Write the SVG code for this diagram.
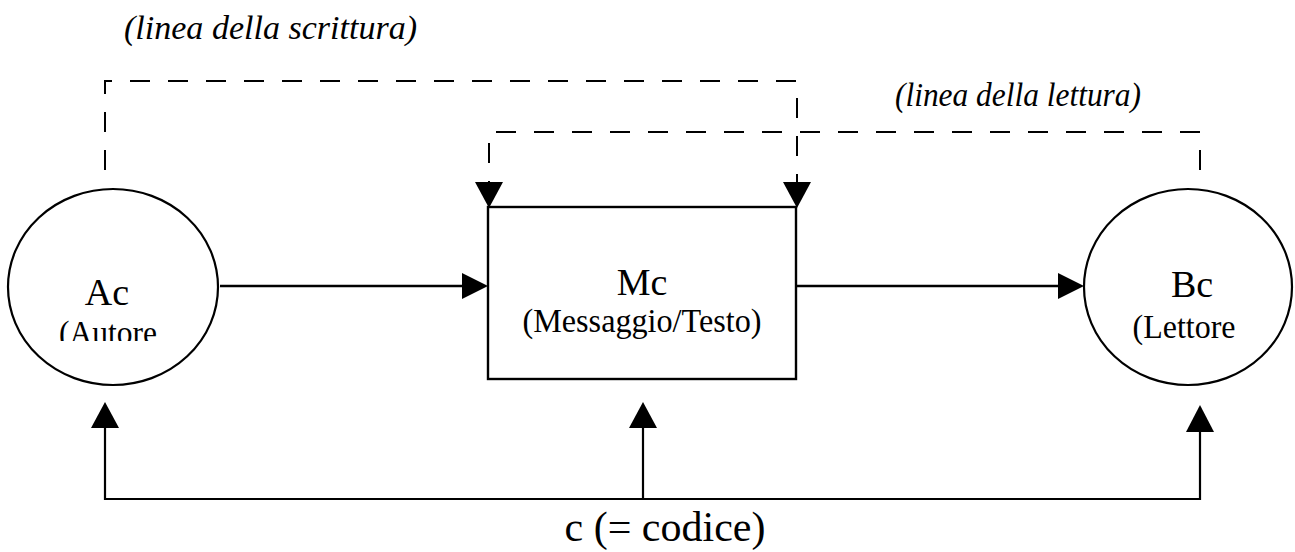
<svg xmlns="http://www.w3.org/2000/svg" width="1295" height="552" viewBox="0 0 1295 552">
<style>
text{font-family:"Liberation Serif","Times New Roman",serif;fill:#000}
.t{font-size:38px;text-anchor:middle}
.s{font-size:33px;text-anchor:middle}
.i{font-size:34px;font-style:italic}
.sh{fill:none;stroke:#000;stroke-width:2.2}
.ln{fill:none;stroke:#000;stroke-width:2.4}
.dl{fill:none;stroke:#000;stroke-width:2;stroke-dasharray:20 18}
.ah{fill:#000;stroke:none}
</style>
<defs>
<clipPath id="clipA"><rect x="0" y="0" width="300" height="341"/></clipPath>
</defs>
<rect width="1295" height="552" fill="#fff"/>
<g id="labels">
<text class="i" x="124" y="39" textLength="293" lengthAdjust="spacingAndGlyphs">(linea della scrittura)</text>
<text class="i" x="895" y="106" textLength="246" lengthAdjust="spacingAndGlyphs">(linea della lettura)</text>
<text x="665" y="541" style="font-size:42px;text-anchor:middle">c (= codice)</text>
</g>
<g id="connectors">
<path class="dl" d="M105,170 V81 H797 V182"/>
<path class="dl" d="M1200,170 V132 H489 V182"/>
<polygon class="ah" points="475,182 503,182 489,208"/>
<polygon class="ah" points="783,182 811,182 797,208"/>
<line class="ln" x1="220" y1="286" x2="464" y2="286"/>
<polygon class="ah" points="462,273 488,286 462,299"/>
<line class="ln" x1="796" y1="286" x2="1060" y2="286"/>
<polygon class="ah" points="1058,273 1084,286 1058,299"/>
<path class="sh" d="M105,428 V499 H1200 V432 M643,499 V428"/>
<polygon class="ah" points="91,428 119,428 105,402"/>
<polygon class="ah" points="629,428 657,428 643,402"/>
<polygon class="ah" points="1186,432 1214,432 1200,405"/>
</g>
<g id="node-ac">
<ellipse class="sh" cx="113" cy="287" rx="105" ry="98"/>
<text class="t" x="107" y="305">Ac</text>
<text class="s" x="108" y="344" textLength="98" lengthAdjust="spacingAndGlyphs" clip-path="url(#clipA)">(Autore</text>
</g>
<g id="node-mc">
<rect class="ln" x="488" y="207" width="308" height="172"/>
<text class="t" x="642" y="295">Mc</text>
<text class="s" x="642" y="332" textLength="239" lengthAdjust="spacingAndGlyphs">(Messaggio/Testo)</text>
</g>
<g id="node-bc">
<ellipse class="sh" cx="1188" cy="287" rx="104" ry="98"/>
<text class="t" x="1192" y="297">Bc</text>
<text class="s" x="1184" y="338" textLength="103" lengthAdjust="spacingAndGlyphs">(Lettore</text>
</g>
</svg>
